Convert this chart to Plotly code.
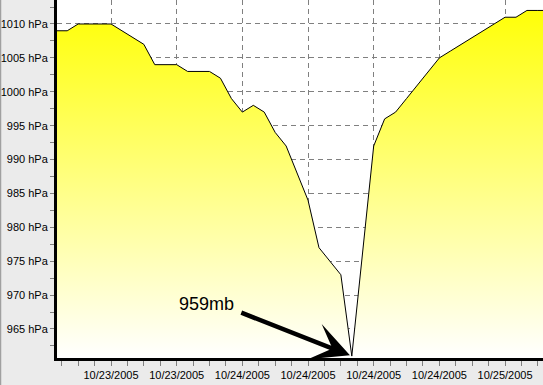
import pandas as pd
import plotly.graph_objects as go

# hourly observation times and sea-level pressure (hPa)
times = pd.date_range("2005-10-23 07:00", "2005-10-25 04:00", freq="h")
pressure = [
    1009, 1009, 1010, 1010, 1010, 1010, 1009, 1008, 1007, 1004, 1004, 1004,
    1003, 1003, 1003, 1002, 999,
    997, 998, 997, 994, 992, 988, 984, 977, 975, 973, 961, 977, 992, 996,
    997, 999, 1001, 1003, 1005, 1006, 1007, 1008, 1009, 1010,
    1011, 1011, 1012, 1012, 1012,
]
min_label = "959mb"
min_time = "2005-10-24 10:00"
min_value = 961

y_range = [960.72, 1013.54]
x_range = ["2005-10-23 07:04", "2005-10-25 03:28"]

fig = go.Figure()
fig.add_trace(go.Scatter(
    x=times, y=pressure, mode="lines",
    line=dict(color="black", width=1),
    fill="tozeroy",
    fillgradient=dict(type="vertical",
                      colorscale=[[0, "#ffffff"], [1, "#ffff00"]],
                      start=y_range[0], stop=y_range[1]),
    hoverinfo="skip", showlegend=False,
))

font = "Liberation Sans, Arial, sans-serif"
fig.update_layout(
    width=543, height=385,
    margin=dict(l=57, r=0, t=0, b=27),
    paper_bgcolor="#ebebeb", plot_bgcolor="#ffffff",
    font=dict(family=font, size=11, color="#000000"),
    showlegend=False,
    xaxis=dict(
        type="date", range=x_range, automargin=False,
        tick0="2005-10-23 00:00", dtick=6 * 3600 * 1000,
        tickformat="%m/%d/%Y",
        showgrid=True, gridcolor="#808080", griddash="5px,4px", gridwidth=1,
        showline=True, linecolor="black", linewidth=3,
        ticks="outside", ticklen=5, tickcolor="#808080", tickwidth=1,
        minor=dict(dtick=1.5 * 3600 * 1000, tick0="2005-10-23 00:00",
                   ticks="outside", ticklen=5, tickcolor="#808080", showgrid=False),
        zeroline=False, fixedrange=True,
        tickfont=dict(size=11, color="black"),
    ),
    yaxis=dict(
        range=y_range, tick0=0, dtick=5, ticksuffix=" hPa", automargin=False,
        showgrid=True, gridcolor="#808080", griddash="5px,4px", gridwidth=1,
        showline=True, linecolor="black", linewidth=3,
        ticks="outside", ticklen=4, tickcolor="#808080", tickwidth=1,
        minor=dict(dtick=2.5, tick0=0, ticks="outside", ticklen=4,
                   tickcolor="#808080", showgrid=False),
        zeroline=False, fixedrange=True,
        tickfont=dict(size=11, color="black"),
    ),
    annotations=[
        dict(x=min_time, y=min_value, xref="x", yref="y", text="",
             showarrow=True, arrowhead=3, arrowsize=1.4, arrowwidth=4.5,
             arrowcolor="black", ax=-112, ay=-44, standoff=2),
        dict(x=min_time, y=min_value, xref="x", yref="y", text=min_label,
             showarrow=False, xanchor="center", yanchor="middle",
             xshift=-145, yshift=52,
             font=dict(family=font, size=18, color="black")),
    ],
    shapes=[
        dict(type="line", xref="paper", yref="paper",
             x0=-56.5 / 486, x1=-56.5 / 486, y0=-27 / 358, y1=1,
             line=dict(color="#a0a0a0", width=1.5)),
    ],
)

fig.write_html(
    "out.html",
    config={"displayModeBar": False},
    post_script="document.body.style.margin='0';document.body.style.overflow='hidden';",
)
